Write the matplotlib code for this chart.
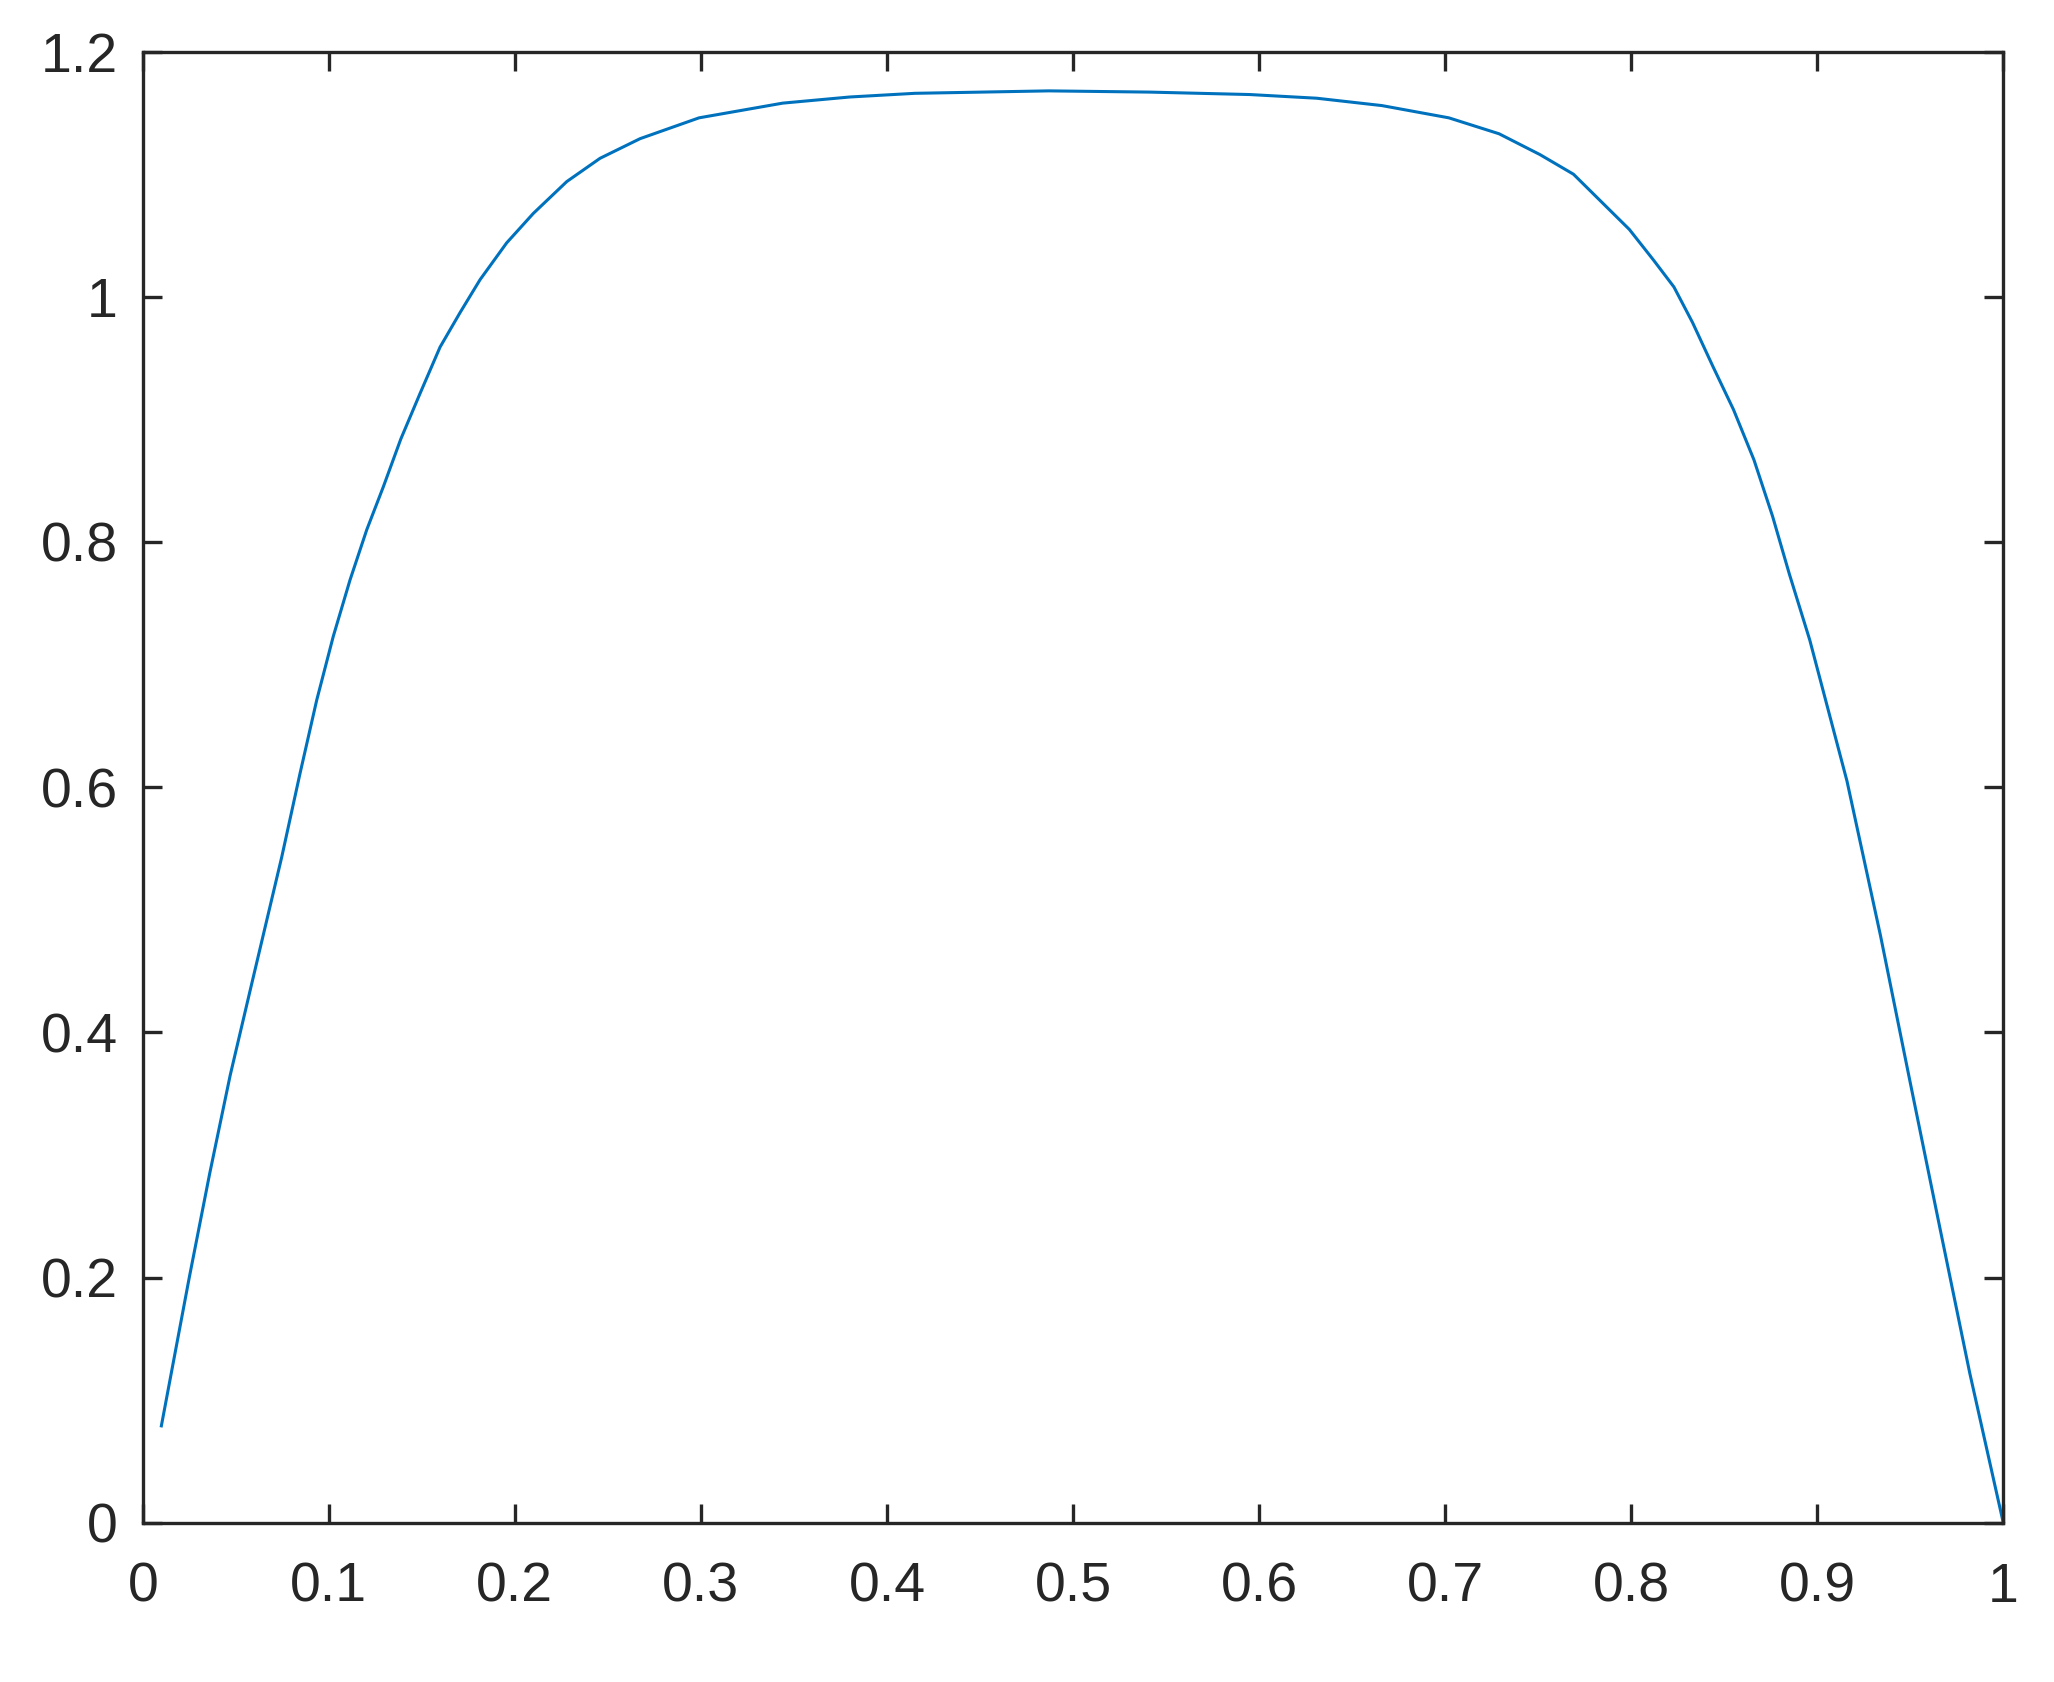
import matplotlib
matplotlib.use("Agg")
import matplotlib.pyplot as plt

# values
x_vals = [0.010, 0.025, 0.036, 0.047, 0.058, 0.0747, 0.0845, 0.0935, 0.1024, 0.1114,
          0.1204, 0.1293, 0.1387, 0.149, 0.1598, 0.1705, 0.1813, 0.1956, 0.2099, 0.2279,
          0.2458, 0.2673, 0.299, 0.344, 0.380, 0.415, 0.451, 0.487, 0.541, 0.595,
          0.631, 0.666, 0.702, 0.729, 0.751, 0.769, 0.783, 0.799, 0.812, 0.823,
          0.833, 0.844, 0.855, 0.866, 0.876, 0.885, 0.896, 0.916, 0.934, 0.950,
          0.966, 0.982, 1.000]
y_vals = [0.079, 0.200, 0.285, 0.365, 0.436, 0.543, 0.611, 0.671, 0.723, 0.769,
          0.810, 0.845, 0.884, 0.921, 0.959, 0.987, 1.014, 1.044, 1.068, 1.094,
          1.113, 1.129, 1.146, 1.158, 1.163, 1.166, 1.167, 1.168, 1.167, 1.165,
          1.162, 1.156, 1.146, 1.133, 1.116, 1.100, 1.079, 1.055, 1.030, 1.008,
          0.979, 0.943, 0.908, 0.867, 0.821, 0.774, 0.720, 0.605, 0.479, 0.359,
          0.240, 0.122, 0.000]

x_ticks = [0, 0.1, 0.2, 0.3, 0.4, 0.5, 0.6, 0.7, 0.8, 0.9, 1]
x_labels = ['0', '0.1', '0.2', '0.3', '0.4', '0.5', '0.6', '0.7', '0.8', '0.9', '1']
y_ticks = [0, 0.2, 0.4, 0.6, 0.8, 1, 1.2]
y_labels = ['0', '0.2', '0.4', '0.6', '0.8', '1', '1.2']

plt.rcParams['font.family'] = ['Liberation Sans', 'DejaVu Sans']
dark = '#262626'

fig = plt.figure(figsize=(10.27, 8.41), dpi=200)
ax = fig.add_axes([0.0695, 0.0947, 0.9058, 0.8746])

ax.plot(x_vals, y_vals, color='#0072BD', lw=1.1)

ax.set_xlim(0, 1)
ax.set_ylim(0, 1.2)
ax.set_xticks(x_ticks)
ax.set_xticklabels(x_labels)
ax.set_yticks(y_ticks)
ax.set_yticklabels(y_labels)

for s in ax.spines.values():
    s.set_linewidth(1.2)
    s.set_color(dark)
ax.tick_params(axis='both', direction='in', length=7, width=1.2, color=dark,
               labelsize=20, labelcolor=dark, top=True, right=True)
ax.tick_params(axis='x', pad=14)
ax.tick_params(axis='y', pad=9)

fig.savefig('out.png', dpi=200, facecolor='white')
